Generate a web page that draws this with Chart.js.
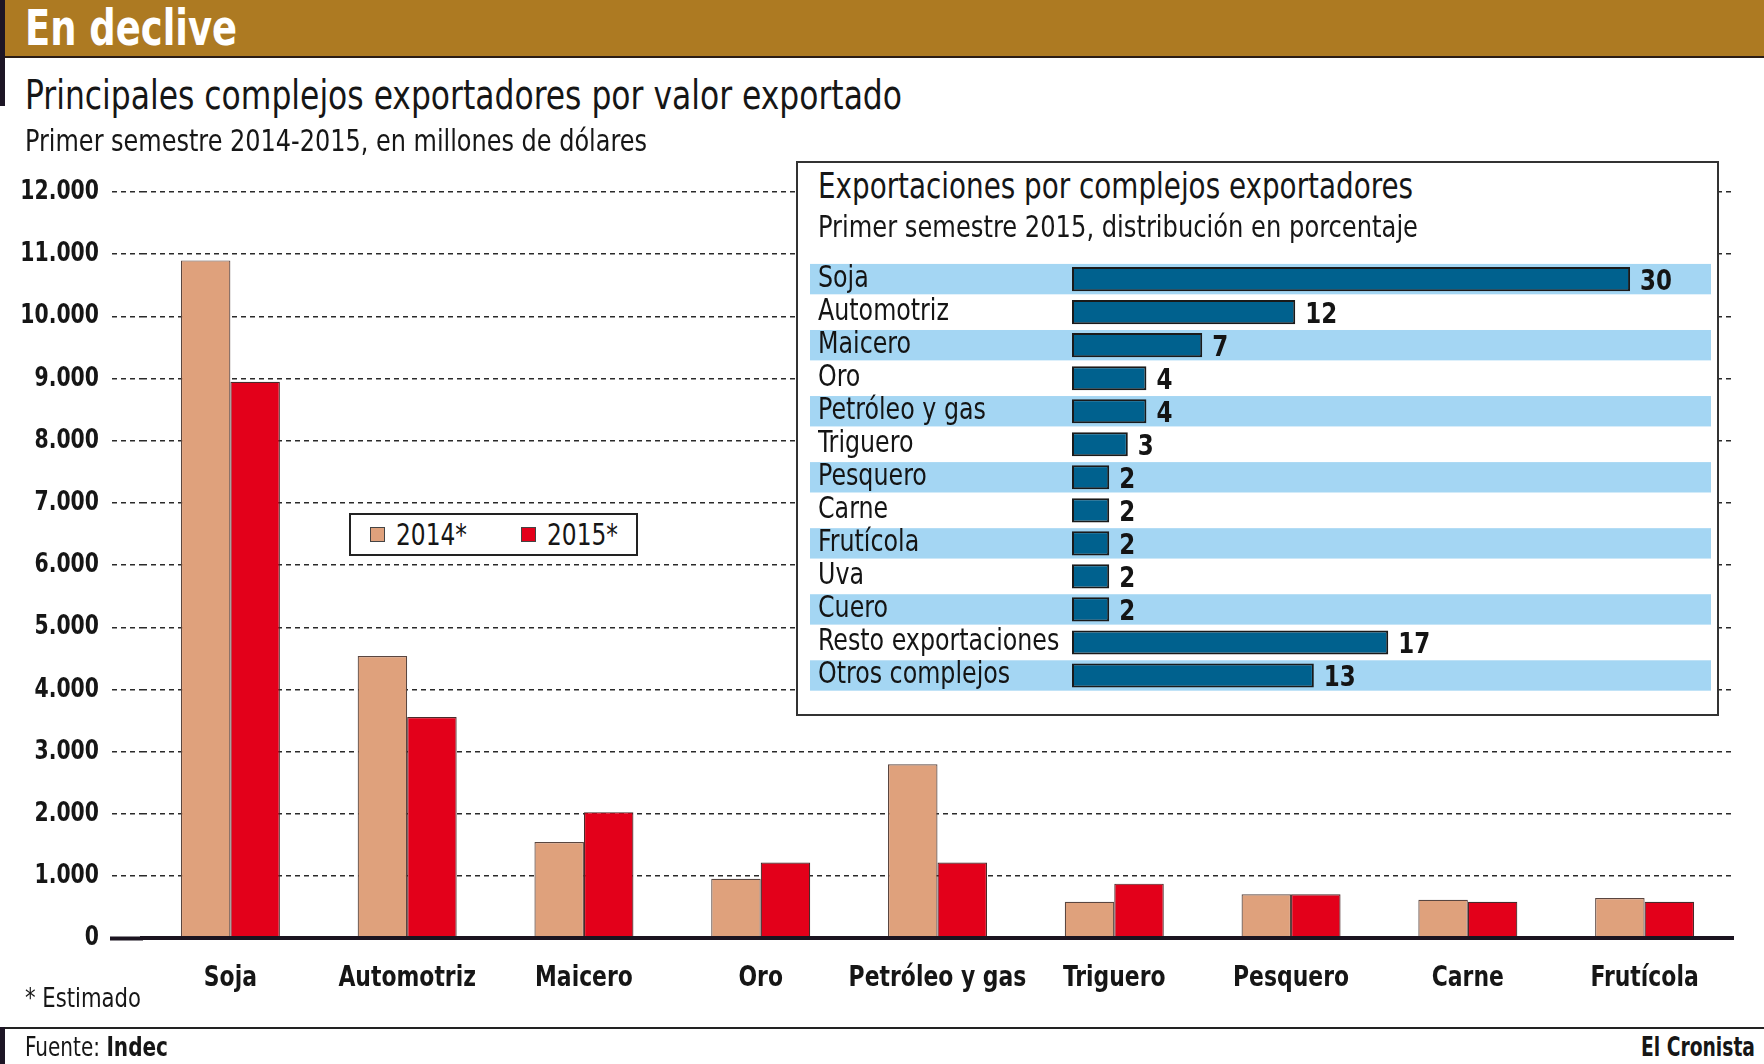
<!DOCTYPE html>
<html><head><meta charset="utf-8">
<script src="https://cdn.jsdelivr.net/npm/chart.js@4.4.1/dist/chart.umd.min.js"></script>
<style>
html,body{margin:0;padding:0;background:#fff;}
body{width:1764px;height:1064px;position:relative;overflow:hidden;color:#161616;}
.t{position:absolute;white-space:nowrap;transform-origin:0 50%;z-index:5;}
#header{position:absolute;left:0;top:0;width:1764px;height:56px;background:#AD7A22;border-bottom:2px solid #2a1c14;}
#lbar{position:absolute;left:0;top:0;width:5px;height:106px;background:#1d1525;z-index:6;}
#fline{position:absolute;left:0;top:1027px;width:1764px;height:2px;background:#222;}
#fbar{position:absolute;left:0;top:1027px;width:5px;height:37px;background:#1d1525;}
#main{position:absolute;left:0;top:150px;z-index:1;}
#inset{position:absolute;left:796px;top:161px;width:923px;height:555px;box-sizing:border-box;border:2px solid #333;background:#fff;z-index:2;}
#share{position:absolute;left:800px;top:240px;z-index:3;}
#legend{position:absolute;left:349px;top:513px;width:289px;height:43px;box-sizing:border-box;border:2px solid #222;background:#fff;z-index:3;}
.sw{position:absolute;width:15px;height:15px;box-sizing:border-box;border:1px solid #444;z-index:4;}
</style></head><body>
<div id="header"></div>
<div id="lbar"></div>
<div class="t" id="ttl" data-w="212" style="left:25px;top:1px;font-size:50px;line-height:54px;font-weight:bold;color:#fff;">En declive</div>
<div class="t" data-w="877" style="left:25px;top:73px;font-size:40px;line-height:44px;">Principales complejos exportadores por valor exportado</div>
<div class="t" data-w="622" style="left:25px;top:123px;font-size:31px;line-height:34px;">Primer semestre 2014-2015, en millones de dólares</div>
<canvas id="main" width="1764" height="880"></canvas>
<div id="inset"></div>
<div class="t" data-w="595" style="left:818px;top:166px;font-size:35px;line-height:40px;">Exportaciones por complejos exportadores</div>
<div class="t" data-w="600" style="left:818px;top:210px;font-size:30px;line-height:34px;">Primer semestre 2015, distribución en porcentaje</div>
<canvas id="share" width="915" height="470"></canvas>
<div id="legend"></div>
<div class="t" data-w="116" style="left:25px;top:984px;font-size:26px;line-height:28px;">* Estimado</div>
<div id="fline"></div>
<div id="fbar"></div>
<div class="t" data-w="143" style="left:25px;top:1033px;font-size:27px;line-height:28px;">Fuente: <b>Indec</b></div>
<div class="t" data-w="114" style="left:1641px;top:1033px;font-size:27px;line-height:28px;font-weight:bold;">El Cronista</div>
<script>
// ---- data ----
const categories = ['Soja','Automotriz','Maicero','Oro','Petróleo y gas','Triguero','Pesquero','Carne','Frutícola'];
const values2014 = [10900, 4540, 1550, 960, 2800, 590, 710, 620, 650];
const values2015 = [8950, 3560, 2030, 1220, 1220, 880, 710, 590, 590];
const seriesNames = ['2014*', '2015*'];
const yTickLabels = ['0','1.000','2.000','3.000','4.000','5.000','6.000','7.000','8.000','9.000','10.000','11.000','12.000'];
const shareCategories = ['Soja','Automotriz','Maicero','Oro','Petróleo y gas','Triguero','Pesquero','Carne','Frutícola','Uva','Cuero','Resto exportaciones','Otros complejos'];
const shareValues = [30, 12, 7, 4, 4, 3, 2, 2, 2, 2, 2, 17, 13];

const seriesColors = ['#DFA17C', '#E3001A'];

// ---- font pick ----
function hasFont(name){
  const c = document.createElement('canvas').getContext('2d');
  const s = 'abcdefghijklmnopqrstuvwxyzABCDEFGHIJ0123456789';
  c.font = '40px monospace'; const a = c.measureText(s).width;
  c.font = '40px "' + name + '", monospace'; const b = c.measureText(s).width;
  c.font = '40px serif'; const a2 = c.measureText(s).width;
  c.font = '40px "' + name + '", serif'; const b2 = c.measureText(s).width;
  return (a !== b) && (a2 !== b2);
}
const candidates = ['Liberation Sans Narrow','DejaVu Sans Condensed','Roboto Condensed','Open Sans Condensed','Roboto'];
let FONT = 'Roboto';
for (const f of candidates) { if (hasFont(f)) { FONT = f; break; } }
const FONT_STACK = '"' + FONT + '", "Liberation Sans", sans-serif';
document.body.style.fontFamily = FONT_STACK;

// legend (built from series)
const legPos = [{sw:370, tx:396}, {sw:521, tx:547}];
seriesNames.forEach((n, i) => {
  const sw = document.createElement('div');
  sw.className = 'sw';
  sw.style.left = legPos[i].sw + 'px'; sw.style.top = '527px'; sw.style.background = seriesColors[i];
  document.body.appendChild(sw);
  const t = document.createElement('div');
  t.className = 't'; t.textContent = n; t.dataset.w = '71';
  t.style.left = legPos[i].tx + 'px'; t.style.top = '517px'; t.style.fontSize = '31px'; t.style.lineHeight = '34px';
  document.body.appendChild(t);
});

// fit html text widths
document.querySelectorAll('[data-w]').forEach(el => {
  const w = el.getBoundingClientRect().width;
  el.style.transform = 'scaleX(' + (+el.dataset.w / w) + ')';
});

// horizontal squeeze of canvas text (condensed look)
function squeeze(k) {
  return {
    id: 'squeeze',
    beforeInit(chart) {
      const ctx = chart.ctx;
      const orig = ctx.fillText;
      ctx.fillText = function (t, x, y, mw) {
        this.save();
        this.translate(x, y);
        this.scale(k, 1);
        if (mw !== undefined) orig.call(this, t, 0, 0, mw / k); else orig.call(this, t, 0, 0);
        this.restore();
      };
    }
  };
}

// zero line continues across the tick area, as in the original
const zeroLine = {
  id: 'zeroLine',
  afterDraw(chart) {
    const {ctx, chartArea, scales: {y}} = chart;
    const py = y.getPixelForValue(0);
    ctx.save();
    ctx.strokeStyle = '#1b1420';
    ctx.lineWidth = 4;
    ctx.beginPath();
    ctx.moveTo(y.right - y.options.grid.tickLength - 2, py);
    ctx.lineTo(chartArea.left + 1, py);
    ctx.stroke();
    ctx.restore();
  }
};

Chart.defaults.font.family = FONT_STACK;
Chart.defaults.color = '#161616';

const isZero = c => c.tick && c.tick.value === 0;

new Chart(document.getElementById('main'), {
  type: 'bar',
  data: {
    labels: categories,
    datasets: [
      {label: seriesNames[0], data: values2014, backgroundColor: seriesColors[0], borderColor: '#5a4640', borderWidth: 1.2},
      {label: seriesNames[1], data: values2015, backgroundColor: seriesColors[1], borderColor: '#4a2a2a', borderWidth: 1.2}
    ]
  },
  options: {
    responsive: false, animation: false,
    layout: {padding: {left: 0, right: 31, top: 42, bottom: 0}},
    plugins: {legend: {display: false}, tooltip: {enabled: false}},
    datasets: {bar: {categoryPercentage: 0.56, barPercentage: 1, borderSkipped: 'start'}},
    scales: {
      x: {
        grid: {display: false, drawTicks: false},
        border: {display: true, color: '#1b1420', width: 4, z: 1},
        ticks: {padding: 23, color: '#161616', font: {size: 29, weight: 'bold'},
                maxRotation: 0, minRotation: 0, autoSkip: false},
        afterFit(s) { s.height = 91.6; }
      },
      y: {
        min: 0, max: 12000,
        ticks: {stepSize: 1000, padding: 13, color: '#161616', font: {size: 27, weight: 'bold'},
                callback: (v, i) => yTickLabels[i]},
        grid: {
          color: c => isZero(c) ? 'rgba(0,0,0,0)' : '#2a2a2a',
          lineWidth: 1.6,
          tickLength: 30,
          tickColor: c => isZero(c) ? 'rgba(0,0,0,0)' : '#2a2a2a',
          tickWidth: 1.6,
          tickBorderDash: [5, 4]
        },
        border: {display: false, dash: [5, 4]},
        afterFit(s) { s.width = 142; }
      }
    }
  },
  plugins: [squeeze(0.84), zeroLine]
});

const stripePlugin = {
  id: 'stripes',
  beforeDraw(chart) {
    const {ctx, chartArea, scales: {y}} = chart;
    const n = chart.data.labels.length;
    const h = (chartArea.bottom - chartArea.top) / n;
    ctx.save();
    ctx.fillStyle = '#A4D6F3';
    for (let i = 0; i < n; i += 2) {
      const cy = y.getPixelForValue(i);
      ctx.fillRect(10, cy - h * 0.46, chartArea.right - 10, h * 0.92);
    }
    ctx.restore();
  }
};
const valuePlugin = {
  id: 'vals',
  afterDatasetsDraw(chart) {
    const {ctx} = chart;
    const meta = chart.getDatasetMeta(0);
    ctx.save();
    ctx.font = 'bold 29px ' + FONT_STACK;
    ctx.fillStyle = '#141414'; ctx.textBaseline = 'middle'; ctx.textAlign = 'left';
    meta.data.forEach((bar, i) => {
      ctx.fillText(String(chart.data.datasets[0].data[i]), bar.x + 10, bar.y + 3);
    });
    ctx.restore();
  }
};

new Chart(document.getElementById('share'), {
  type: 'bar',
  data: {
    labels: shareCategories,
    datasets: [{data: shareValues, backgroundColor: '#00618E', borderColor: '#1a1a1a', borderWidth: 2,
                borderSkipped: false, categoryPercentage: 0.73, barPercentage: 1}]
  },
  options: {
    indexAxis: 'y', responsive: false, animation: false,
    layout: {padding: {left: 18, right: 4, top: 22.6, bottom: 12.5}},
    plugins: {legend: {display: false}, tooltip: {enabled: false}},
    scales: {
      x: {display: false, min: 0, max: 34.35},
      y: {
        grid: {display: false, drawTicks: false},
        border: {display: false},
        ticks: {crossAlign: 'far', color: '#141414', font: {size: 30}, padding: 0, autoSkip: false},
        afterFit(s) { s.width = 254; }
      }
    }
  },
  plugins: [stripePlugin, valuePlugin, squeeze(0.88)]
});
</script>
</body></html>
